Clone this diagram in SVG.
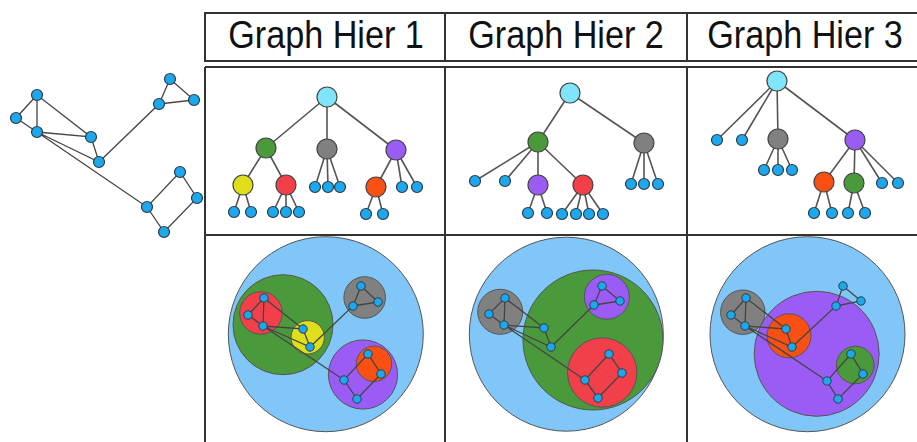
<svg xmlns="http://www.w3.org/2000/svg" width="917" height="442" viewBox="0 0 917 442">
<style>
.grid{stroke:#333;stroke-width:2;fill:none}
.hdr{font-family:"Liberation Sans",Arial,sans-serif;font-size:38px;fill:#111;text-anchor:middle}
.e{stroke:#444;stroke-width:1.3;fill:none}
.te{stroke:#555;stroke-width:1.6;fill:none}
.ln{fill:#1ea8ec;stroke:#2b3b4b;stroke-width:1.2}
.sn{fill:#1ea8ec;stroke:#2b3b4b;stroke-width:1}
.h{stroke:#444;stroke-width:1.2}
.c{stroke:#555;stroke-width:1}
.cy{fill:#80e4fa}.gr{fill:#4a9a3c}.gy{fill:#808080}.pu{fill:#9b5cf5}.ye{fill:#dede1a}.rd{fill:#f2404a}.or{fill:#fa5014}.bl{fill:#80c6f8}
</style>
<rect width="917" height="442" fill="#fff"/>
<g id="table" class="grid">
<rect x="205" y="13" width="730" height="48"/>
<line x1="445" y1="13" x2="445" y2="61"/>
<line x1="687" y1="13" x2="687" y2="61"/>
<line x1="205" y1="67" x2="917" y2="67"/>
<line x1="205" y1="67" x2="205" y2="442"/>
<line x1="445" y1="67" x2="445" y2="442"/>
<line x1="687" y1="67" x2="687" y2="442"/>
<line x1="205" y1="235" x2="917" y2="235"/>
</g>
<g id="headers">
<text class="hdr" transform="translate(326,48) scale(0.9,1)">Graph Hier 1</text>
<text class="hdr" transform="translate(566,48) scale(0.9,1)">Graph Hier 2</text>
<text class="hdr" transform="translate(805,48) scale(0.9,1)">Graph Hier 3</text>
</g>
<g id="containers1">
<g id="c1-root"><circle class="c bl" cx="325.8" cy="334.2" r="97.5"/></g>
<g id="c1-green"><circle class="c gr" cx="283" cy="324.7" r="50"/></g>
<g id="c1-red"><circle class="c rd" cx="261" cy="313" r="21.3"/></g>
<g id="c1-yellow"><circle class="c ye" cx="307.7" cy="337.3" r="16.7"/></g>
<g id="c1-gray"><circle class="c gy" cx="364.7" cy="297.5" r="20.8"/></g>
<g id="c1-purple"><circle class="c pu" cx="363" cy="374.5" r="34.6"/></g>
<g id="c1-orange"><circle class="c or" cx="374" cy="363.8" r="17.7"/></g>
</g>
<g id="containers2">
<g id="c2-root"><circle class="c bl" cx="566.3" cy="334.2" r="97"/></g>
<g id="c2-green"><circle class="c gr" cx="593" cy="340" r="70"/></g>
<g id="c2-gray"><circle class="c gy" cx="500.2" cy="311.8" r="22.5"/></g>
<g id="c2-purple"><circle class="c pu" cx="606.8" cy="296.8" r="22.5"/></g>
<g id="c2-red"><circle class="c rd" cx="602.2" cy="372.5" r="34.7"/></g>
</g>
<g id="containers3">
<g id="c3-root"><circle class="c bl" cx="807.5" cy="334.2" r="97.5"/></g>
<g id="c3-purple"><circle class="c pu" cx="816.7" cy="353.8" r="62.5"/></g>
<g id="c3-gray"><circle class="c gy" cx="742.8" cy="312.2" r="22.2"/></g>
<g id="c3-orange"><circle class="c or" cx="789" cy="335.8" r="22"/></g>
<g id="c3-green"><circle class="c gr" cx="855.3" cy="365" r="18.8"/></g>
</g>
<g id="connectors">
<g id="graph-edges" class="e">
<path d="M37,95L16,118L37,132L37,95L91,137L37,132L99,162L91,137M37,132L147,207L180,172L197,198L164,232L147,207M99,162L159,104L170,79L194,100L159,104"/>
<path d="M264,298L248,315L263,326L264,298L303,329L263,326L310,347L303,329M263,326L344,380L368,354L381,374L357,399L344,380M310,347L353,306L361,286L378,302L353,306"/>
<path d="M505,298L489,314L504,325L505,298L544,328L504,325L551,347L544,328M504,325L585,380L609,354L622,373L598,398L585,380M551,347L594,305L602,286L620,301L594,305"/>
<path d="M746,298L731,315L745,326L746,298L786,329L745,326L792,347L786,329M745,326L827,381L851,354L863,374L838,399L827,381M792,347L836,306L843,286L861,301L836,306"/>
</g>
<g id="tree-edges" class="te">
<path d="M327,97L266,148M327,97L327,149M327,97L396,150M266,148L243,185M266,148L286,185M327,149L315,187M327,149L328,187M327,149L340,187M396,150L376,187M396,150L402,187M396,150L417,187M243,185L234,212M243,185L251,212M286,185L273,212M286,185L286,212M286,185L299,212M376,187L366,214M376,187L383,214"/>
<path d="M570,93L538,142M570,93L644,143M538,142L475,181M538,142L505,181M538,142L538,185M538,142L583,185M644,143L631,184M644,143L644,184M644,143L658,184M538,185L528,213M538,185L547,213M583,185L562,214M583,185L576,214M583,185L589,214M583,185L603,214"/>
<path d="M777,81L717,140M777,81L742,140M777,81L778,139M777,81L855,140M778,139L764,170M778,139L778,170M778,139L792,170M855,140L824,182M855,140L854,183M855,140L882,183M855,140L898,183M824,182L814,213M824,182L832,213M854,183L848,213M854,183L865,213"/>
</g>
</g>
<g id="graph-nodes">
<g id="g-a"><circle class="ln" cx="37" cy="95" r="5.5"/></g>
<g id="g-b"><circle class="ln" cx="16" cy="118" r="5.5"/></g>
<g id="g-c"><circle class="ln" cx="37" cy="132" r="5.5"/></g>
<g id="g-d"><circle class="ln" cx="91" cy="137" r="5.5"/></g>
<g id="g-e"><circle class="ln" cx="99" cy="162" r="5.5"/></g>
<g id="g-f"><circle class="ln" cx="170" cy="79" r="5.5"/></g>
<g id="g-g"><circle class="ln" cx="159" cy="104" r="5.5"/></g>
<g id="g-h"><circle class="ln" cx="194" cy="100" r="5.5"/></g>
<g id="g-i"><circle class="ln" cx="180" cy="172" r="5.5"/></g>
<g id="g-j"><circle class="ln" cx="197" cy="198" r="5.5"/></g>
<g id="g-k"><circle class="ln" cx="147" cy="207" r="5.5"/></g>
<g id="g-l"><circle class="ln" cx="164" cy="232" r="5.5"/></g>
</g>
<g id="panel-nodes" class="sn">
<g id="p1-nodes">
<circle cx="264" cy="298" r="4.2"/><circle cx="248" cy="315" r="4.2"/><circle cx="263" cy="326" r="4.2"/><circle cx="303" cy="329" r="4.2"/><circle cx="310" cy="347" r="4.2"/><circle cx="361" cy="286" r="4.2"/><circle cx="353" cy="306" r="4.2"/><circle cx="378" cy="302" r="4.2"/><circle cx="368" cy="354" r="4.2"/><circle cx="381" cy="374" r="4.2"/><circle cx="344" cy="380" r="4.2"/><circle cx="357" cy="399" r="4.2"/>
</g>
<g id="p2-nodes">
<circle cx="505" cy="298" r="4.2"/><circle cx="489" cy="314" r="4.2"/><circle cx="504" cy="325" r="4.2"/><circle cx="544" cy="328" r="4.2"/><circle cx="551" cy="347" r="4.2"/><circle cx="602" cy="286" r="4.2"/><circle cx="594" cy="305" r="4.2"/><circle cx="620" cy="301" r="4.2"/><circle cx="609" cy="354" r="4.2"/><circle cx="622" cy="373" r="4.2"/><circle cx="585" cy="380" r="4.2"/><circle cx="598" cy="398" r="4.2"/>
</g>
<g id="p3-nodes">
<circle cx="746" cy="298" r="4.2"/><circle cx="731" cy="315" r="4.2"/><circle cx="745" cy="326" r="4.2"/><circle cx="786" cy="329" r="4.2"/><circle cx="792" cy="347" r="4.2"/><circle cx="843" cy="286" r="4.2"/><circle cx="836" cy="306" r="4.2"/><circle cx="861" cy="301" r="4.2"/><circle cx="851" cy="354" r="4.2"/><circle cx="863" cy="374" r="4.2"/><circle cx="827" cy="381" r="4.2"/><circle cx="838" cy="399" r="4.2"/>
</g>
</g>
<g id="tree1">
<g id="t1-root"><circle class="h cy" cx="327" cy="97" r="10"/></g>
<g id="t1-green"><circle class="h gr" cx="266" cy="148" r="10"/></g>
<g id="t1-gray"><circle class="h gy" cx="327" cy="149" r="10"/></g>
<g id="t1-purple"><circle class="h pu" cx="396" cy="150" r="10"/></g>
<g id="t1-yellow"><circle class="h ye" cx="243" cy="185" r="10"/></g>
<g id="t1-red"><circle class="h rd" cx="286" cy="185" r="10"/></g>
<g id="t1-orange"><circle class="h or" cx="376" cy="187" r="10"/></g>
<g id="t1-leaves">
<circle class="ln" cx="315" cy="187" r="5.5"/><circle class="ln" cx="328" cy="187" r="5.5"/><circle class="ln" cx="340" cy="187" r="5.5"/>
<circle class="ln" cx="402" cy="187" r="5.5"/><circle class="ln" cx="417" cy="187" r="5.5"/>
<circle class="ln" cx="234" cy="212" r="5.5"/><circle class="ln" cx="251" cy="212" r="5.5"/>
<circle class="ln" cx="273" cy="212" r="5.5"/><circle class="ln" cx="286" cy="212" r="5.5"/><circle class="ln" cx="299" cy="212" r="5.5"/>
<circle class="ln" cx="366" cy="214" r="5.5"/><circle class="ln" cx="383" cy="214" r="5.5"/>
</g>
</g>
<g id="tree2">
<g id="t2-root"><circle class="h cy" cx="570" cy="93" r="10"/></g>
<g id="t2-green"><circle class="h gr" cx="538" cy="142" r="10"/></g>
<g id="t2-gray"><circle class="h gy" cx="644" cy="143" r="10"/></g>
<g id="t2-purple"><circle class="h pu" cx="538" cy="185" r="10"/></g>
<g id="t2-red"><circle class="h rd" cx="583" cy="185" r="10"/></g>
<g id="t2-leaves">
<circle class="ln" cx="475" cy="181" r="5.5"/><circle class="ln" cx="505" cy="181" r="5.5"/>
<circle class="ln" cx="631" cy="184" r="5.5"/><circle class="ln" cx="644" cy="184" r="5.5"/><circle class="ln" cx="658" cy="184" r="5.5"/>
<circle class="ln" cx="528" cy="213" r="5.5"/><circle class="ln" cx="547" cy="213" r="5.5"/>
<circle class="ln" cx="562" cy="214" r="5.5"/><circle class="ln" cx="576" cy="214" r="5.5"/><circle class="ln" cx="589" cy="214" r="5.5"/><circle class="ln" cx="603" cy="214" r="5.5"/>
</g>
</g>
<g id="tree3">
<g id="t3-root"><circle class="h cy" cx="777" cy="81" r="10"/></g>
<g id="t3-gray"><circle class="h gy" cx="778" cy="139" r="10"/></g>
<g id="t3-purple"><circle class="h pu" cx="855" cy="140" r="10"/></g>
<g id="t3-orange"><circle class="h or" cx="824" cy="182" r="10"/></g>
<g id="t3-green"><circle class="h gr" cx="854" cy="183" r="10"/></g>
<g id="t3-leaves">
<circle class="ln" cx="717" cy="140" r="5.5"/><circle class="ln" cx="742" cy="140" r="5.5"/>
<circle class="ln" cx="764" cy="170" r="5.5"/><circle class="ln" cx="778" cy="170" r="5.5"/><circle class="ln" cx="792" cy="170" r="5.5"/>
<circle class="ln" cx="882" cy="183" r="5.5"/><circle class="ln" cx="898" cy="183" r="5.5"/>
<circle class="ln" cx="814" cy="213" r="5.5"/><circle class="ln" cx="832" cy="213" r="5.5"/>
<circle class="ln" cx="848" cy="213" r="5.5"/><circle class="ln" cx="865" cy="213" r="5.5"/>
</g>
</g>
</svg>
